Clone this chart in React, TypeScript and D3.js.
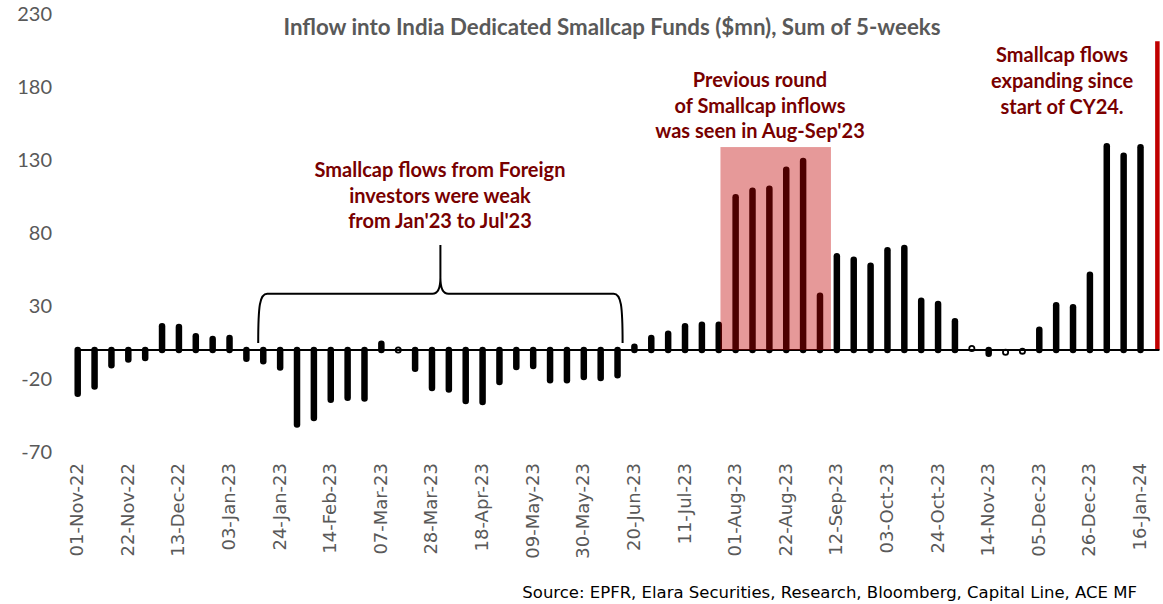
import React from 'react';
import * as d3 from 'd3';

// ---- Data ----
const startDate = '2022-11-01';
const weeklyFlows: number[] = [
  -30, -25, -10.5, -6.5, -5.5, 16.2, 15.8, 9.4, 7.5, 8.2,
  -6, -7.7, -12, -51, -46.5, -34, -32.7, -33.3, 4.3, 0,
  -12.8, -26, -27, -35, -35.6, -22, -11.6, -11, -20.8, -20.8,
  -18.5, -19.2, -17.3, 2.3, 8.2, 11.2, 16.2, 17.3, 17.3, 104.6,
  109.1, 110.5, 123.5, 129.5, 37.2, 64.2, 61.8, 57.7, 68.3, 69.9,
  33.8, 31.5, 19.7, 1, -2.5, -1.5, -0.8, 13.9, 30.6, 29.2,
  51.6, 139.5, 133.1, 138.8, 211.4,
];
const tickLabels = [
  '01-Nov-22', '22-Nov-22', '13-Dec-22', '03-Jan-23', '24-Jan-23', '14-Feb-23',
  '07-Mar-23', '28-Mar-23', '18-Apr-23', '09-May-23', '30-May-23', '20-Jun-23',
  '11-Jul-23', '01-Aug-23', '22-Aug-23', '12-Sep-23', '03-Oct-23', '24-Oct-23',
  '14-Nov-23', '05-Dec-23', '26-Dec-23', '16-Jan-24',
];
const yTicks = [-70, -20, 30, 80, 130, 180, 230];
const yDomain: [number, number] = [-70, 230];

const titleText = 'Inflow into India Dedicated Smallcap Funds ($mn), Sum of 5-weeks';
const sourceText = 'Source: EPFR, Elara Securities, Research, Bloomberg, Capital Line, ACE MF';
const noteForeign = ['Smallcap flows from Foreign', 'investors were weak', "from Jan'23 to Jul'23"];
const notePrevious = ['Previous round', 'of Smallcap inflows', "was seen in Aug-Sep'23"];
const noteCY24 = ['Smallcap flows', 'expanding since', 'start of CY24.'];

// highlight band (in week-index units and value units)
const highlightRange = [38.1, 44.65];
const highlightTop = 139;
// brace (week-index units and value units)
const braceRange = [10.7, 32.3];
const braceLevels = { end: 4.8, bar: 38.5, peak: 72 };

const W = 1163, H = 604;

export default function App() {
  const fmt = d3.utcFormat('%d-%b-%y');
  const start = new Date(startDate + 'T00:00:00Z');
  const dates = weeklyFlows.map((_, i) => fmt(d3.utcDay.offset(start, 7 * i)));

  const x = d3.scalePoint<string>().domain(dates).range([77.7, 77.7 + 64 * 16.87]);
  const step = x.step();
  const xi = (i: number) => (x(dates[0]) as number) + i * step;
  const y = d3.scaleLinear().domain(yDomain).range([452.2, 14.2]);
  const y0 = y(0);

  const bx0 = xi(braceRange[0]);
  const bx1 = xi(braceRange[1]);
  const bm = (bx0 + bx1) / 2;
  const yb = y(braceLevels.bar);
  const ye = y(braceLevels.end);
  const yp = y(braceLevels.peak);
  const bracePath = d3.path();
  bracePath.moveTo(bx0, ye);
  bracePath.bezierCurveTo(bx0, yb + 12, bx0 + 1.5, yb, bx0 + 9, yb);
  bracePath.lineTo(bm - 8, yb);
  bracePath.quadraticCurveTo(bm, yb, bm, yb - 16);
  bracePath.lineTo(bm, yp);
  bracePath.lineTo(bm, yb - 16);
  bracePath.quadraticCurveTo(bm, yb, bm + 8, yb);
  bracePath.lineTo(bx1 - 9, yb);
  bracePath.bezierCurveTo(bx1 - 1.5, yb, bx1, yb + 12, bx1, ye);

  const lastIdx = weeklyFlows.length - 1;
  const noteFont = "Lato, 'Open Sans', sans-serif";
  const noteColor = '#780000';

  return (
    <svg width={W} height={H} style={{ position: 'absolute', left: 0, top: 0, background: '#fff' }}>
      {/* title */}
      <text x={612} y={35} textAnchor="middle" fontFamily={noteFont} fontWeight={700} fontSize={22.3} fill="#595959">
        {titleText}
      </text>

      {/* y axis labels */}
      {yTicks.map((t) => (
        <text key={t} x={52} y={y(t)} dy="0.35em" textAnchor="end" fontFamily={noteFont} fontSize={20} fill="#595959">
          {t}
        </text>
      ))}

      {/* bars */}
      {weeklyFlows.map((v, i) => {
        const cx = x(dates[i]) as number;
        const color = i === lastIdx ? '#C00000' : '#000';
        if (Math.abs(v) <= 1.5) {
          return (
            <circle key={i} cx={cx} cy={y(v)} r={2.6} fill="#fff" stroke={color} strokeWidth={1.8} />
          );
        }
        return (
          <line key={i} x1={cx} x2={cx} y1={y0} y2={y(v)} stroke={color} strokeWidth={i === lastIdx ? 4.5 : 6.5}
            strokeLinecap={i === lastIdx ? 'butt' : 'round'} />
        );
      })}

      {/* zero line */}
      <line x1={xi(0) - 1} x2={xi(lastIdx) + 2} y1={y0} y2={y0} stroke="#000" strokeWidth={2} />

      {/* highlight band */}
      <rect x={xi(highlightRange[0])} y={y(highlightTop)} width={xi(highlightRange[1]) - xi(highlightRange[0])}
        height={y0 - y(highlightTop)} fill="#C00000" fillOpacity={0.4} />

      {/* brace */}
      <path d={bracePath.toString()} fill="none" stroke="#000" strokeWidth={2} />

      {/* annotations */}
      {noteForeign.map((s, k) => (
        <text key={'f' + k} x={440} y={177 + k * 25.5} textAnchor="middle" fontFamily={noteFont} fontWeight={700} fontSize={20} fill={noteColor}>{s}</text>
      ))}
      {notePrevious.map((s, k) => (
        <text key={'p' + k} x={760} y={87 + k * 25.5} textAnchor="middle" fontFamily={noteFont} fontWeight={700} fontSize={20} fill={noteColor}>{s}</text>
      ))}
      {noteCY24.map((s, k) => (
        <text key={'c' + k} x={1062} y={62 + k * 26} textAnchor="middle" fontFamily={noteFont} fontWeight={700} fontSize={20} fill={noteColor}>{s}</text>
      ))}

      {/* x tick labels */}
      {dates.map((d, i) =>
        tickLabels.includes(d) ? (
          <text key={d} transform={`translate(${(x(d) as number) + 5.5},${463}) rotate(-90)`} textAnchor="end"
            fontFamily="'DejaVu Sans', Verdana, sans-serif" fontSize={18} fill="#595959">
            {d}
          </text>
        ) : null
      )}

      {/* source */}
      <text x={1137} y={598} textAnchor="end" fontFamily="'DejaVu Sans', Verdana, sans-serif" fontSize={16.5} fill="#000">
        {sourceText}
      </text>
    </svg>
  );
}
